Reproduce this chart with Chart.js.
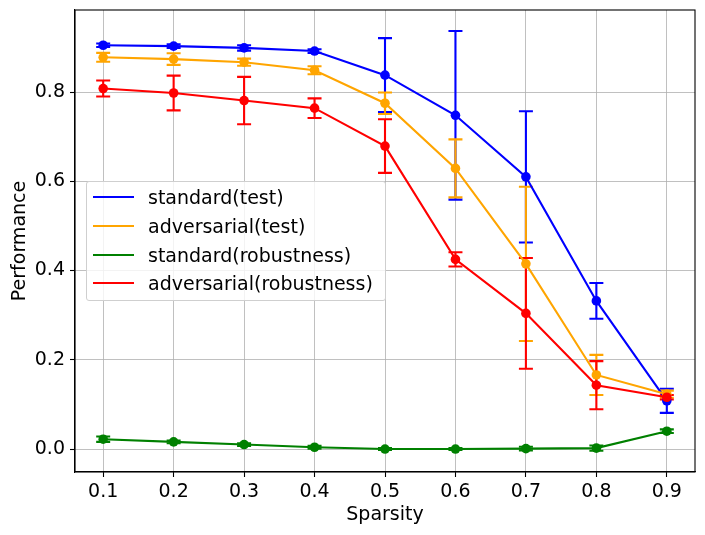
<!DOCTYPE html>
<html>
<head>
<meta charset="utf-8">
<script src="https://cdn.jsdelivr.net/npm/chart.js@4.4.1/dist/chart.umd.min.js"></script>
<style>
  body { margin: 0; background: #fff; }
  #wrap { position: relative; width: 705px; height: 535px; }
  #legend {
    position: absolute; left: 86px; top: 181px; width: 298px; height: 118px;
    border: 1px solid #cfcfcf; border-radius: 3px; background: rgba(255,255,255,0.8);
    font-family: "DejaVu Sans", sans-serif; font-size: 19px; color: #000;
  }
  .item { position: absolute; left: 0; height: 24px; line-height: 24px; white-space: nowrap; }
  .item span.line { position: absolute; left: 6px; top: 11px; width: 41px; height: 2px; }
  .item span.txt { position: absolute; left: 61px; top: 0; }
</style>
</head>
<body>
<div id="wrap">
  <canvas id="myChart" width="705" height="535"></canvas>
  <div id="legend"></div>
</div>
<script>
var sparsity = [0.1, 0.2, 0.3, 0.4, 0.5, 0.6, 0.7, 0.8, 0.9];
var xTickLabels = ["0.1", "0.2", "0.3", "0.4", "0.5", "0.6", "0.7", "0.8", "0.9"];
var yTicks = [0.0, 0.2, 0.4, 0.6, 0.8];
var yTickLabels = ["0.0", "0.2", "0.4", "0.6", "0.8"];

var seriesNames = ["standard(test)", "adversarial(test)", "standard(robustness)", "adversarial(robustness)"];
var seriesColors = ["blue", "orange", "green", "red"];

var standardTest = [0.905, 0.903, 0.899, 0.892, 0.838, 0.748, 0.610, 0.332, 0.108];
var standardTestErr = [0.004, 0.004, 0.006, 0.004, 0.083, 0.189, 0.147, 0.040, 0.027];
var adversarialTest = [0.878, 0.874, 0.867, 0.849, 0.775, 0.629, 0.415, 0.166, 0.123];
var adversarialTestErr = [0.010, 0.013, 0.008, 0.009, 0.024, 0.065, 0.173, 0.045, 0.008];
var standardRobust = [0.022, 0.016, 0.010, 0.004, 0.000, 0.000, 0.001, 0.002, 0.040];
var standardRobustErr = [0.006, 0.003, 0.003, 0.003, 0.002, 0.002, 0.004, 0.006, 0.004];
var adversarialRobust = [0.808, 0.798, 0.781, 0.764, 0.679, 0.425, 0.304, 0.143, 0.116];
var adversarialRobustErr = [0.018, 0.039, 0.053, 0.022, 0.060, 0.016, 0.124, 0.054, 0.005];

var allValues = [standardTest, adversarialTest, standardRobust, adversarialRobust];
var allErrors = [standardTestErr, adversarialTestErr, standardRobustErr, adversarialRobustErr];

var FONT = "DejaVu Sans";

// error bars go under every line, like matplotlib does it
var errorBars = {
  id: "errorBars",
  beforeDatasetsDraw: function(chart) {
    var ctx = chart.ctx;
    var ys = chart.scales.y;
    ctx.save();
    ctx.beginPath();
    ctx.rect(chart.chartArea.left, chart.chartArea.top, chart.chartArea.width, chart.chartArea.height);
    ctx.clip();
    chart.data.datasets.forEach(function(ds, d) {
      var meta = chart.getDatasetMeta(d);
      ctx.strokeStyle = ds.borderColor;
      ctx.lineWidth = 2.1;
      meta.data.forEach(function(pt, i) {
        var v = allValues[d][i], e = allErrors[d][i];
        var top = ys.getPixelForValue(v + e);
        var bot = ys.getPixelForValue(v - e);
        ctx.beginPath();
        ctx.moveTo(pt.x, top); ctx.lineTo(pt.x, bot);
        ctx.moveTo(pt.x - 7, top); ctx.lineTo(pt.x + 7, top);
        ctx.moveTo(pt.x - 7, bot); ctx.lineTo(pt.x + 7, bot);
        ctx.stroke();
      });
    });
    ctx.restore();
  },
  afterDraw: function(chart) {
    var a = chart.chartArea, ctx = chart.ctx;
    ctx.save();
    ctx.strokeStyle = "#000";
    ctx.lineWidth = 1.1;
    ctx.strokeRect(a.left, a.top, a.right - a.left, a.bottom - a.top);
    ctx.restore();
  }
};

var datasets = allValues.map(function(vals, d) {
  return {
    label: seriesNames[d],
    data: sparsity.map(function(x, i) { return {x: x, y: vals[i]}; }),
    borderColor: seriesColors[d],
    backgroundColor: seriesColors[d],
    borderWidth: 2.1,
    pointRadius: 4.8,
    pointBorderWidth: 0,
    pointHoverRadius: 4.8,
    tension: 0,
    order: 3 - d
  };
});

new Chart("myChart", {
  type: "line",
  data: { datasets: datasets },
  plugins: [errorBars],
  options: {
    responsive: false,
    animation: false,
    layout: { padding: { top: 10, right: 10, left: 0, bottom: 0 } },
    plugins: { legend: { display: false }, tooltip: { enabled: false } },
    scales: {
      x: {
        type: "linear",
        min: 0.06, max: 0.94,
        afterBuildTicks: function(s) { s.ticks = sparsity.map(function(v) { return {value: v}; }); },
        afterFit: function(s) { s.height = 63; s.paddingLeft = 0; s.paddingRight = 0; },
        ticks: {
          color: "#000", padding: 4, maxRotation: 0, autoSkip: false,
          font: { family: FONT, size: 19 },
          callback: function(v, i) { return xTickLabels[i]; }
        },
        grid: { color: "#b0b0b0", lineWidth: 0.8, tickColor: "#000", tickLength: 5, tickWidth: 1.1 },
        border: { color: "#000", width: 1.1 },
        title: { display: true, text: "Sparsity", color: "#000", font: { family: FONT, size: 19 }, padding: { top: 0, bottom: 9 } }
      },
      y: {
        min: -0.0515, max: 0.984,
        afterBuildTicks: function(s) { s.ticks = yTicks.map(function(v) { return {value: v}; }); },
        afterFit: function(s) { s.width = 75; s.paddingTop = 0; s.paddingBottom = 0; },
        ticks: {
          color: "#000", padding: 5,
          font: { family: FONT, size: 19 },
          callback: function(v, i) { return yTickLabels[i]; }
        },
        grid: { color: "#b0b0b0", lineWidth: 0.8, tickColor: "#000", tickLength: 5, tickWidth: 1.1 },
        border: { color: "#000", width: 1.1 },
        title: { display: true, text: "Performance", color: "#000", font: { family: FONT, size: 19 }, padding: { top: 9, bottom: 0 } }
      }
    }
  }
});

// legend box, placed where matplotlib put it
var legend = document.getElementById("legend");
seriesNames.forEach(function(name, d) {
  var row = document.createElement("div");
  row.className = "item";
  row.style.top = (3 + d * 28.8) + "px";
  row.innerHTML = '<span class="line" style="background:' + seriesColors[d] + '"></span><span class="txt">' + name + '</span>';
  legend.appendChild(row);
});
</script>
</body>
</html>
